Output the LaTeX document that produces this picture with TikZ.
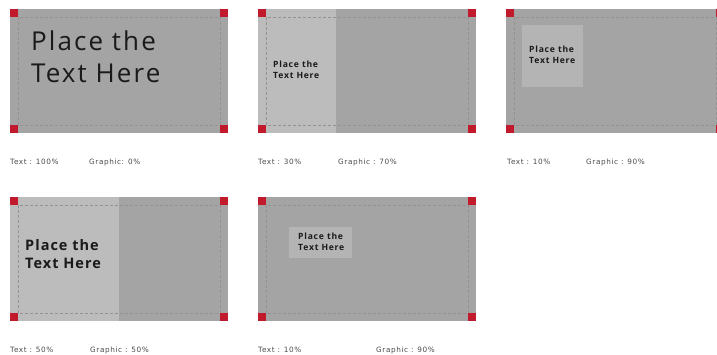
\documentclass[tikz,border=0pt]{standalone}
\usepackage{fontspec}
\setmainfont{Open Sans}
\newfontfamily\lblfont[LetterSpace=8]{DejaVu Sans}
\newfontfamily\bigfont[LetterSpace=8]{Open Sans}
\newfontfamily\boldfont[LetterSpace=7]{Open Sans Bold}
\newfontfamily\smallfont[LetterSpace=9]{Open Sans Bold}
\definecolor{gdark}{HTML}{A4A4A4}
\definecolor{glight}{HTML}{BCBCBC}
\definecolor{gbox}{HTML}{B4B4B4}
\definecolor{gline}{HTML}{939393}
\definecolor{cred}{HTML}{C01A2C}
\definecolor{gtext}{HTML}{4A4A4A}
\definecolor{tdark}{HTML}{1A1A1A}
\tikzset{
  cardfill/.style={fill=gdark, draw=none},
  lightpart/.style={fill=glight, draw=none},
  textbox/.style={fill=gbox, draw=none},
  guide/.style={draw=gline, dash pattern=on 3pt off 2pt, line width=0.4pt},
  corner/.style={fill=cred, draw=none},
  lbl/.style={font=\lblfont\fontsize{7.3}{8}\selectfont, anchor=base west, inner sep=0pt, text=gtext},
  bigtxt/.style={font=\bigfont\fontsize{26}{32}\selectfont, anchor=north west, inner sep=0pt, align=left, text=tdark},
  midtxt/.style={font=\boldfont\fontsize{14.5}{18}\selectfont, anchor=north west, inner sep=0pt, align=left, text=tdark},
  smalltxt/.style={font=\smallfont\fontsize{8.6}{11}\selectfont, anchor=north west, inner sep=0pt, align=left, text=tdark},
}
% #1,#2 top-left; #3 inner content drawn over the card fill
\newcommand{\mycard}[3]{%
  \begin{scope}[shift={(#1,#2)}]
    \fill[cardfill] (0,0) rectangle (218,124);
    #3
    \draw[guide] (8,8) rectangle (210,116);
    \fill[corner] (0,0) rectangle (8,8);
    \fill[corner] (210,0) rectangle (218,8);
    \fill[corner] (0,116) rectangle (8,124);
    \fill[corner] (210,116) rectangle (218,124);
  \end{scope}}
\begin{document}
\begin{tikzpicture}[x=1pt,y=-1pt]
\useasboundingbox (0,0) rectangle (717,355);
\clip (0,0) rectangle (717,355);
% Panel 1
\mycard{10}{9}{}
\node[bigtxt] (t1) at (31,31) {Place the\\Text Here};
\node[lbl] (l1a) at (10,165) {Text : 100\%};
\node[lbl] (l1b) at (89,165) {Graphic: 0\%};
% Panel 2
\mycard{258}{9}{\fill[lightpart] (0,0) rectangle (78,124);}
\node[smalltxt] (t2) at (273,60.5) {Place the\\Text Here};
\node[lbl] (l2a) at (258,165) {Text : 30\%};
\node[lbl] (l2b) at (338,165) {Graphic : 70\%};
% Panel 3
\mycard{506}{9}{\fill[textbox] (16,16) rectangle (77,78);}
\node[smalltxt] (t3) at (529,45.5) {Place the\\Text Here};
\node[lbl] (l3a) at (507,165) {Text : 10\%};
\node[lbl] (l3b) at (586,165) {Graphic : 90\%};
% Panel 4
\mycard{10}{197}{\fill[lightpart] (0,0) rectangle (109,124);}
\node[midtxt] (t4) at (25,239.5) {Place the\\Text Here};
\node[lbl] (l4a) at (10,352) {Text : 50\%};
\node[lbl] (l4b) at (90,352) {Graphic : 50\%};
% Panel 5
\mycard{258}{197}{\fill[textbox] (31,30) rectangle (94,61);}
\node[smalltxt] (t5) at (298,232.5) {Place the\\Text Here};
\node[lbl] (l5a) at (258,352) {Text : 10\%};
\node[lbl] (l5b) at (376,352) {Graphic : 90\%};
\end{tikzpicture}
\end{document}
